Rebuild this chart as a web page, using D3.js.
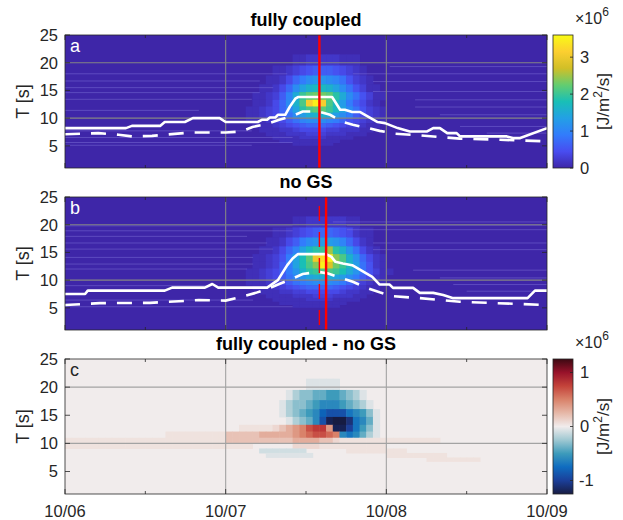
<!DOCTYPE html>
<html>
<head>
<meta charset="utf-8">
<script src="https://cdn.jsdelivr.net/npm/d3@7"></script>
<style>
  body { margin: 0; background: #fff; }
  svg text { font-family: "Liberation Sans", Arial, Helvetica, sans-serif; fill: #262626; }
</style>
</head>
<body>
<div id="chart"></div>
<script>
// ---- data ----
const dayHours = [0, 24, 48, 72];
const dayLabels = ["10/06", "10/07", "10/08", "10/09"];
const minorHours = [12, 36, 60];
const periodTicks = [5, 10, 15, 20, 25];
const periodGrid = [10, 20];
// period bin edges (s), top row first
const periodEdges = [21.5, 19.5, 17.7, 16.1, 14.7, 13.3, 12.1, 11.0, 10.0, 9.1, 8.3, 7.5, 6.8, 6.2, 5.6, 5.1];

// energy flux, one char per hour from fluxStart, base 36 in units of 1e5 J/m2/s
const fluxStart = 26;
const fluxCoupled = [
  "000000001122222111000000",
  "000001123456665432100000",
  "0000112479bccba853210000",
  "00011247beghhgeb85311000",
  "0011236afkmnnmjfb8531100",
  "0011247bglvzvlhd96421000",
  "0112347aejlmmkheb8532100",
  "01123468bdfggfdb96432100",
  "011123468abbba9754321100",
  "001112345677765433211000",
  "000111223444433222110000",
  "000011122233322211100000",
  "000001111222211110000000",
  "000000111111111000000000",
  "000000001111110000000000"
];
const fluxNoGS = [
  "000000001122222211000000",
  "000001123456776542110000",
  "0000112469bcddca74210000",
  "00011247aehjkpjgc8421000",
  "00112359eimuxzolgc742100",
  "00112369eilozsnkhd852100",
  "01123469cgjkllkifc853110",
  "01123468acefffedb9642100",
  "0111234689abbba975321100",
  "001112345677776543211000",
  "000111223344444322110000",
  "000011112223332221100000",
  "000001111122221111000000",
  "000000111111111100000000",
  "000000001111111000000000"
];
// coupled - noGS, runs of [startHour, codes]; 0-9 = +0.1e6 steps, A-M = -0.1e6 steps, p/q = faint +/-
const fluxDiff = [
  [[36, "qqqqq"]],
  [[33, "qBCCDDEEDCBq"]],
  [[32, "qBCCDEFFFEDCBq"]],
  [[32, "qBCDEFHIIIGFECq"]],
  [[33, "qBCDFILMMKGFDq"]],
  [[26, "ppppp123457884LLJGECq"]],
  [[15, "ppppppppp22222333334567765"], [41, "FGFDBq"]],
  [[0, "pppppppppppp"], [12, "pppppppppppp"], [24, "2222222222333322"], [40, "1ppppppppppppppp"]],
  [[0, "pppppppppppp"], [12, "pppppppppppppppp"], [34, "1111pppppppppp"]],
  [[29, "AAAAAAA"], [42, "ppppppppp"]],
  [[30, "qqqqqqq"], [48, "ppppppppp"]],
  [[54, "pppppppp"]],
  [], [], []
];

// period lines [hour, T]
const tpCoupled = [[0, 8.2], [9.1, 8.2], [10.0, 8.6], [14.2, 8.6], [14.9, 9.3], [17.9, 9.3], [19.1, 10.0], [23.1, 10.0],
  [24.0, 9.3], [28.8, 9.3], [29.4, 9.7], [30.2, 9.7], [30.6, 10.1], [31.4, 10.1], [31.8, 10.6], [32.9, 10.6],
  [33.6, 12.1], [34.4, 13.5], [34.8, 13.8], [39.9, 13.8], [41.1, 11.5], [41.8, 11.5], [42.9, 11.1], [44.1, 11.1],
  [46.7, 9.3], [47.8, 9.1], [49.7, 8.2], [51.5, 7.6], [54.1, 7.6], [55.0, 8.2], [56.0, 8.2], [57.1, 7.3],
  [58.5, 7.3], [59.0, 6.7], [66.0, 6.7], [66.9, 6.4], [68.0, 6.4], [72.0, 8.2]];
const tmCoupled = [[0, 7.1], [5, 7.3], [8.0, 7.0], [10.0, 6.7], [13.0, 6.8], [18.7, 7.4], [24.0, 7.4], [26.4, 7.6],
  [28.0, 8.4], [30.0, 8.9], [32.0, 9.7], [34.0, 10.4], [35.5, 11.2], [37.8, 11.2], [39.6, 10.6], [41.5, 9.3],
  [43.0, 8.8], [45.3, 8.2], [47.0, 7.7], [49.3, 7.2], [53.0, 6.9], [59.0, 6.3], [65.0, 6.1], [72.0, 5.8]];
const tpNoGS = [[0, 7.5], [3.0, 7.5], [3.4, 8.1], [14.9, 8.1], [16.0, 8.65], [20.9, 8.65], [22.0, 9.3], [22.9, 8.65],
  [30.2, 8.65], [31.8, 10.0], [33.2, 12.7], [34.0, 13.9], [34.8, 14.7], [39.0, 14.7], [39.8, 14.2], [40.4, 13.3],
  [41.5, 13.0], [42.9, 12.7], [45.9, 10.6], [47.0, 9.2], [48.5, 9.2], [49.0, 8.6], [52.0, 8.6], [53.0, 7.7],
  [55.0, 7.7], [56.5, 7.3], [58.0, 6.75], [69.1, 6.75], [70.2, 8.1], [72.0, 8.1]];
const tmNoGS = [[0, 5.5], [5.2, 5.85], [12.7, 5.9], [20.0, 6.4], [24.0, 6.3], [26.0, 6.9], [28.5, 7.7], [30.0, 8.3],
  [32.0, 9.3], [34.0, 10.3], [35.5, 11.1], [37.8, 11.5], [39.3, 11.2], [41.5, 10.3], [43.0, 9.7], [45.3, 8.5],
  [47.0, 7.8], [49.0, 7.1], [53.0, 6.75], [59.0, 6.1], [72.0, 5.5]];

// red markers (hours)
const redSolidCoupled = [38];
const redSolidNoGS = [39];
const redDashedNoGS = [38];

// faint cell-edge seams [T, fromHour, toHour]
const seamsCoupled = [[18.0, 0, 33.2], [16.7, 0, 29.1], [15.5, 0, 31.1], [14.6, 0, 29.1], [13.4, 0, 27.9], [11.4, 0, 20.0],
  [7.7, 0, 27.9], [6.5, 0, 34.0], [5.6, 0, 34.0], [5.1, 0, 27.9], [19.3, 48.5, 72], [18.0, 43, 72], [16.6, 46, 72],
  [14.8, 46, 72], [13.3, 52.3, 72], [12.0, 52.3, 72], [10.6, 56, 72], [8.5, 59, 72], [7.3, 63, 72]];
const seamsNoGS = [[19.8, 0, 34], [18.9, 0, 34], [17.9, 0, 27.2], [16.7, 0, 30.2], [15.6, 0, 31.1], [14.1, 0, 28.1],
  [12.9, 0, 28.1], [12.0, 0, 27.2], [9.0, 0, 22.1], [6.4, 0, 28.1], [5.2, 0, 34], [20.5, 40, 72], [19.9, 42.1, 72],
  [19.1, 42.1, 72], [16.7, 46, 72], [15.5, 46, 72], [11.8, 52, 72], [10.4, 56, 72], [9.2, 58, 72], [8.0, 60, 72]];

const fluxMax = 3.6, diffMax = 1.25;
const parulaStops = ["#3e26a8", "#484df0", "#327cfc", "#23a0e5", "#19bfb6", "#64cd6f", "#d1bf27", "#fccf30", "#f9fb15"];
const balanceStops = ["#181c43", "#1b3f99", "#0f6cc0", "#3d9bbb", "#9fc8d2", "#f1ecec", "#e6b8a8", "#d9826a", "#c4433a", "#98122a", "#3c0912"];

// ---- scales ----
const parula = d3.scaleLinear()
  .domain(parulaStops.map((c, i) => i / (parulaStops.length - 1) * fluxMax))
  .range(parulaStops).clamp(true);
const balance = d3.scaleLinear()
  .domain(balanceStops.map((c, i) => -diffMax + i / (balanceStops.length - 1) * 2 * diffMax))
  .range(balanceStops).clamp(true);

const x = d3.scaleLinear().domain([0, 72]).range([65, 547]);

const svg = d3.select("#chart").append("svg")
  .attr("width", 623).attr("height", 520);
const defs = svg.append("defs");
defs.append("filter").attr("id", "soft")
  .append("feGaussianBlur").attr("stdDeviation", 0.7);

function diffValue(ch) {
  if (ch === "p") return 0.05;
  if (ch === "q") return -0.06;
  if (ch >= "0" && ch <= "9") return +ch / 10;
  return -(ch.charCodeAt(0) - 64) / 10;
}

function addCell(g, h, i, y, fill) {
  const y0 = y(periodEdges[i]), y1 = y(periodEdges[i + 1]);
  g.append("rect")
    .attr("x", x(h)).attr("y", y0)
    .attr("width", x(h + 1) - x(h) + 0.5)
    .attr("height", y1 - y0 + 0.5)
    .attr("fill", fill);
}

// --- one panel ---
function drawPanel(p) {
  const y = d3.scaleLinear().domain([1, 25]).range([p.bottom, p.top]);
  const clipId = "clip-" + p.letter;
  defs.append("clipPath").attr("id", clipId)
    .append("rect").attr("x", x(0)).attr("y", p.top)
    .attr("width", x(72) - x(0)).attr("height", p.bottom - p.top);

  const g = svg.append("g").attr("clip-path", `url(#${clipId})`);
  const cells = g.append("g");
  if (p.diff) cells.attr("filter", "url(#soft)");

  cells.append("rect").attr("x", x(0) - 5).attr("y", p.top - 5)
    .attr("width", x(72) - x(0) + 10).attr("height", p.bottom - p.top + 10)
    .attr("fill", p.diff ? balance(0) : parula(0));

  if (p.flux) {
    p.flux.forEach((row, i) => {
      row.split("").forEach((ch, j) => {
        const v = parseInt(ch, 36) / 10;
        if (v > 0) addCell(cells, fluxStart + j, i, y, parula(v));
      });
    });
  }
  if (p.diff) {
    p.diff.forEach((runs, i) => {
      runs.forEach(([start, codes]) => {
        codes.split("").forEach((ch, j) => {
          const v = diffValue(ch);
          if (v !== 0) addCell(cells, start + j, i, y, balance(v));
        });
      });
    });
  }

  // seams
  (p.seams || []).forEach(([t, h0, h1]) => {
    g.append("line").attr("x1", x(h0)).attr("x2", x(h1))
      .attr("y1", y(t)).attr("y2", y(t))
      .style("stroke", "#8378dc").style("stroke-opacity", 0.5).style("stroke-width", 0.9);
  });

  // grid
  const gridColor = p.diff ? "#a3a3a3" : "#858585";
  periodGrid.forEach(t => {
    g.append("line").attr("x1", x(0)).attr("x2", x(72)).attr("y1", y(t)).attr("y2", y(t))
      .style("stroke", gridColor).style("stroke-width", 1.1);
  });
  dayHours.slice(1, 3).forEach(h => {
    g.append("line").attr("x1", x(h)).attr("x2", x(h)).attr("y1", p.top).attr("y2", p.bottom)
      .style("stroke", gridColor).style("stroke-width", 1.1);
  });

  // white period lines
  const line = d3.line().x(d => x(d[0])).y(d => y(d[1]));
  if (p.tp) {
    g.append("path").datum(p.tp).attr("d", line)
      .style("fill", "none").style("stroke", "#fff").style("stroke-width", 2.6)
      .style("stroke-linejoin", "round");
    g.append("path").datum(p.tm).attr("d", line)
      .style("fill", "none").style("stroke", "#fff").style("stroke-width", 2.6)
      .style("stroke-dasharray", "15,11");
  }

  // red markers
  (p.redDashed || []).forEach(h => {
    g.append("line").attr("x1", x(h)).attr("x2", x(h)).attr("y1", p.top).attr("y2", p.bottom)
      .style("stroke", "#ff0000").style("stroke-width", 1.4)
      .style("stroke-dasharray", "15,11").style("stroke-dashoffset", 17);
  });
  (p.redSolid || []).forEach(h => {
    g.append("line").attr("x1", x(h)).attr("x2", x(h)).attr("y1", p.top).attr("y2", p.bottom)
      .style("stroke", "#ff0000").style("stroke-width", 2.4);
  });

  // frame and ticks
  svg.append("rect").attr("x", x(0)).attr("y", p.top)
    .attr("width", x(72) - x(0)).attr("height", p.bottom - p.top)
    .style("fill", "none").style("stroke", "#262626").style("stroke-width", 0.8);
  const tk = svg.append("g").style("stroke", "#262626").style("stroke-width", 0.8);
  periodTicks.forEach(t => {
    tk.append("line").attr("x1", x(0)).attr("x2", x(0) + 5).attr("y1", y(t)).attr("y2", y(t));
    tk.append("line").attr("x1", x(72)).attr("x2", x(72) - 5).attr("y1", y(t)).attr("y2", y(t));
    svg.append("text").attr("x", 58).attr("y", y(t)).attr("dy", "0.36em")
      .attr("text-anchor", "end").style("font-size", "16.5px").text(t);
  });
  dayHours.forEach(h => {
    tk.append("line").attr("x1", x(h)).attr("x2", x(h)).attr("y1", p.bottom).attr("y2", p.bottom - 5);
    tk.append("line").attr("x1", x(h)).attr("x2", x(h)).attr("y1", p.top).attr("y2", p.top + 5);
  });
  minorHours.forEach(h => {
    tk.append("line").attr("x1", x(h)).attr("x2", x(h)).attr("y1", p.bottom).attr("y2", p.bottom - 3);
    tk.append("line").attr("x1", x(h)).attr("x2", x(h)).attr("y1", p.top).attr("y2", p.top + 3);
  });
  if (p.xLabels) {
    dayHours.forEach((h, i) => {
      svg.append("text").attr("x", x(h)).attr("y", 517)
        .attr("text-anchor", "middle").style("font-size", "16.5px").text(dayLabels[i]);
    });
  }

  // labels
  svg.append("text").attr("x", (x(0) + x(72)) / 2).attr("y", p.top - 9.5)
    .attr("text-anchor", "middle").style("font-size", "18px").style("font-weight", "bold")
    .style("fill", "#000").text(p.title);
  svg.append("text")
    .attr("transform", `translate(29,${(p.top + p.bottom) / 2}) rotate(-90)`)
    .attr("text-anchor", "middle").style("font-size", "18px").text("T [s]");
  svg.append("text").attr("x", 70).attr("y", p.top + 17)
    .style("font-size", "18px").style("fill", p.letterColor).text(p.letter);
}

// --- colorbar ---
function drawColorbar(top, bottom, domain, ticks, stops, id) {
  const cx0 = 553, cx1 = 573;
  const grad = defs.append("linearGradient").attr("id", id)
    .attr("x1", 0).attr("y1", 1).attr("x2", 0).attr("y2", 0);
  stops.forEach((c, i) => {
    grad.append("stop").attr("offset", i / (stops.length - 1)).attr("stop-color", c);
  });
  const cy = d3.scaleLinear().domain(domain).range([bottom, top]);
  svg.append("rect").attr("x", cx0).attr("y", top).attr("width", cx1 - cx0).attr("height", bottom - top)
    .style("fill", `url(#${id})`).style("stroke", "#262626").style("stroke-width", 0.8);
  ticks.forEach(t => {
    svg.append("line").attr("x1", cx1).attr("x2", cx1 - 3).attr("y1", cy(t)).attr("y2", cy(t))
      .style("stroke", "#262626").style("stroke-width", 0.8);
    svg.append("text").attr("x", t < 0 ? 579 : 580).attr("y", cy(t)).attr("dy", "0.36em")
      .style("font-size", "16.5px").text(t < 0 ? "-" + Math.abs(t) : t);
  });
  const ex = svg.append("text").attr("x", 575).attr("y", top - 11).style("font-size", "16px");
  ex.append("tspan").text("\u00d710");
  ex.append("tspan").attr("dy", -8).style("font-size", "12px").text("6");
  const lab = svg.append("text")
    .attr("transform", `translate(609,${(top + bottom) / 2}) rotate(-90)`)
    .attr("text-anchor", "middle").style("font-size", "17px");
  lab.append("tspan").text("[J/m");
  lab.append("tspan").attr("dy", -7).style("font-size", "12px").text("2");
  lab.append("tspan").attr("dy", 7).text("/s]");
}

drawPanel({ letter: "a", letterColor: "#fff", top: 35, bottom: 168, title: "fully coupled",
  flux: fluxCoupled, seams: seamsCoupled, tp: tpCoupled, tm: tmCoupled, redSolid: redSolidCoupled });
drawPanel({ letter: "b", letterColor: "#fff", top: 197, bottom: 330, title: "no GS",
  flux: fluxNoGS, seams: seamsNoGS, tp: tpNoGS, tm: tmNoGS, redSolid: redSolidNoGS, redDashed: redDashedNoGS });
drawPanel({ letter: "c", letterColor: "#262626", top: 359, bottom: 494, title: "fully coupled - no GS",
  diff: fluxDiff, xLabels: true });

drawColorbar(35, 168, [0, fluxMax], [0, 1, 2, 3], parulaStops, "cb-flux");
drawColorbar(359, 494, [-diffMax, diffMax], [-1, 0, 1], balanceStops, "cb-diff");
</script>
</body>
</html>
